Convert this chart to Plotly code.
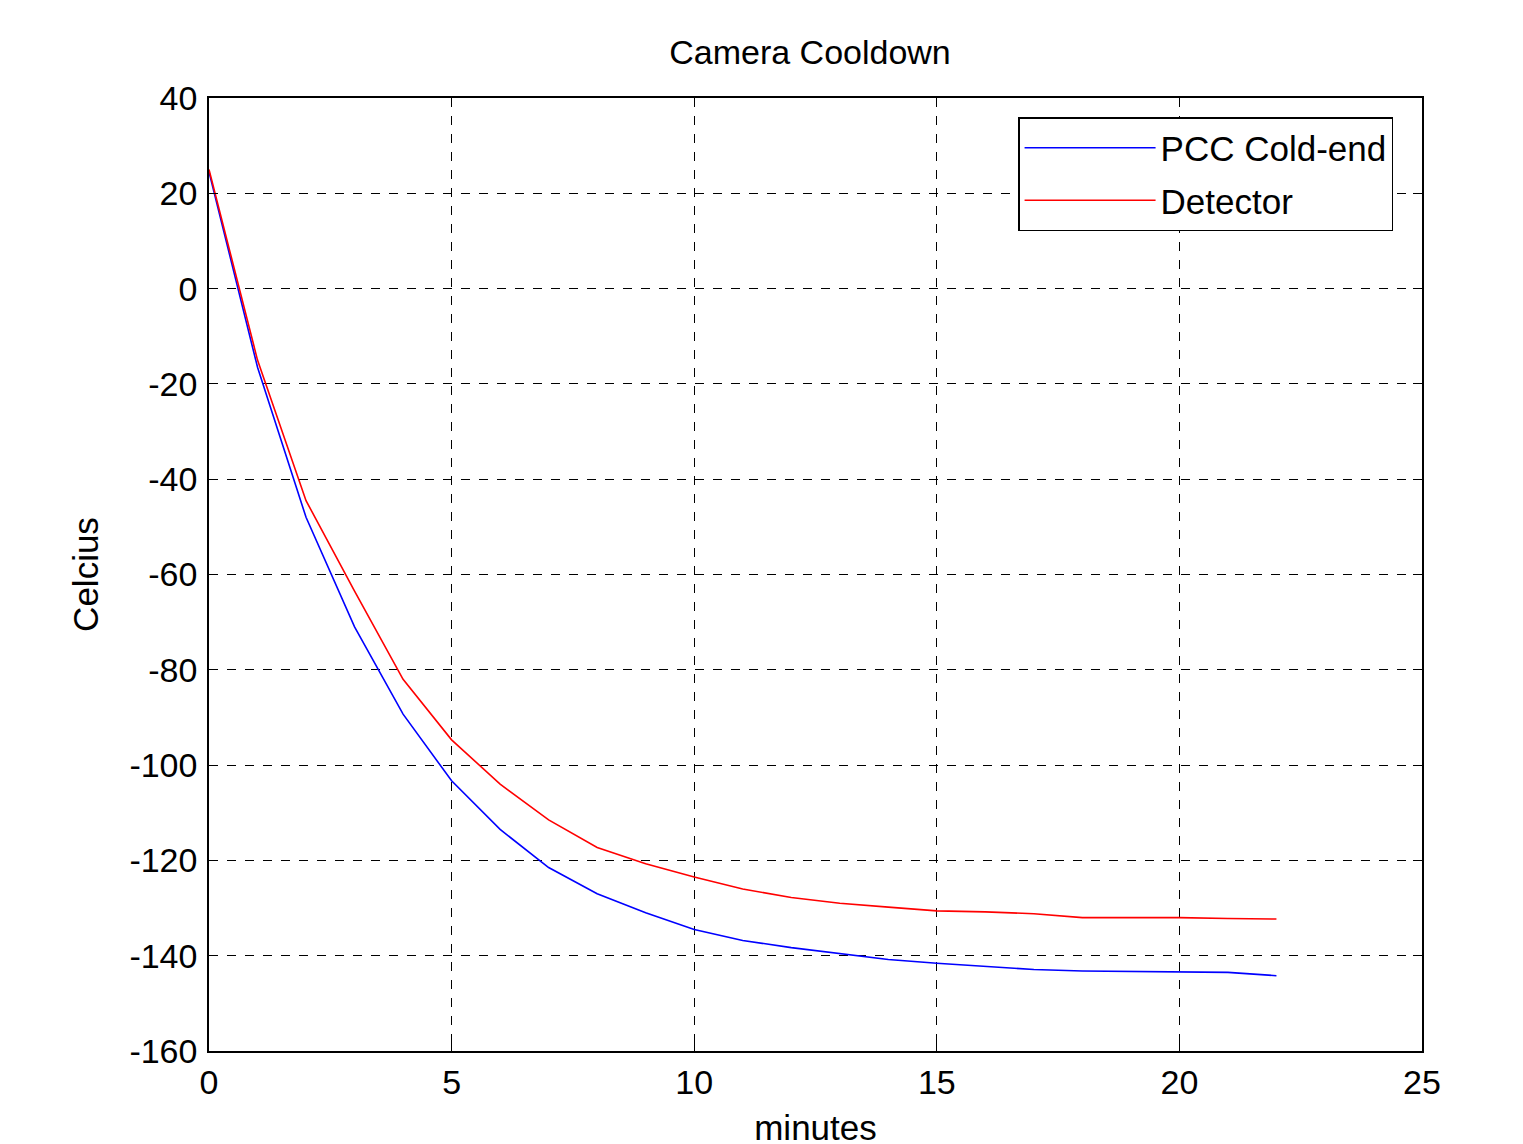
import plotly.graph_objects as go

minutes = [0, 1, 2, 3, 4, 5, 6, 7, 8, 9, 10, 11, 12, 13, 14, 15, 16, 17, 18, 19, 20, 21, 22]
pcc_cold_end = [24.5, -16.5, -48, -71, -89.3, -103.3, -113.5, -121.5, -127, -131, -134.5,
                -136.8, -138.3, -139.6, -140.8, -141.6, -142.2, -142.9, -143.2, -143.3,
                -143.4, -143.5, -144.2]
detector = [25, -15, -44.5, -63.5, -82, -94.7, -104, -111.5, -117.3, -120.7, -123.5,
            -126, -127.8, -129, -129.8, -130.6, -130.8, -131.2, -132, -132, -132,
            -132.2, -132.3]

x_ticks = [0, 5, 10, 15, 20, 25]
y_ticks = [-160, -140, -120, -100, -80, -60, -40, -20, 0, 20, 40]
x_tick_labels = [str(v) for v in x_ticks]
y_tick_labels = [str(v) for v in y_ticks]

FONT = "Arial, Liberation Sans, sans-serif"

fig = go.Figure()
fig.add_trace(go.Scatter(x=minutes, y=pcc_cold_end, mode="lines", name="PCC Cold-end",
                         legendgroup="a",
                         line=dict(color="#0000FF", width=1.6)))
fig.add_trace(go.Scatter(x=minutes, y=detector, mode="lines", name="Detector",
                         legendgroup="b",
                         line=dict(color="#FF0000", width=1.6)))

axis_common = dict(
    showline=True, linecolor="black", linewidth=1.5, mirror="ticks",
    ticks="inside", ticklen=9, tickcolor="black", tickwidth=1,
    showgrid=True, gridcolor="black", gridwidth=1, griddash="dash",
    zeroline=False, tickfont=dict(family=FONT, size=34, color="black"),
)

fig.update_layout(
    width=1523, height=1144,
    paper_bgcolor="white", plot_bgcolor="white",
    margin=dict(l=201, r=109, t=90, b=101),
    title=dict(text="Camera Cooldown", x=802 / 1523, xanchor="center",
               y=1 - 44 / 1144, yanchor="middle",
               font=dict(family=FONT, size=34, color="black")),
    xaxis=dict(range=[0, 25], tickvals=x_ticks, ticktext=x_tick_labels,
               ticklabelstandoff=0,
               title=dict(text="minutes", standoff=16,
                          font=dict(family=FONT, size=35, color="black")),
               **axis_common),
    yaxis=dict(range=[-160, 40], tickvals=y_ticks, ticktext=y_tick_labels,
               ticklabelstandoff=3,
               title=dict(text="Celcius", standoff=20,
                          font=dict(family=FONT, size=35, color="black")),
               **axis_common),
    legend=dict(x=0.667, y=0.98, xanchor="left", yanchor="top",
                bgcolor="white", bordercolor="black", borderwidth=1.5,
                font=dict(family=FONT, size=35, color="black"),
                itemwidth=131, tracegroupgap=4),
    showlegend=True,
)

fig.write_html("out.html")
